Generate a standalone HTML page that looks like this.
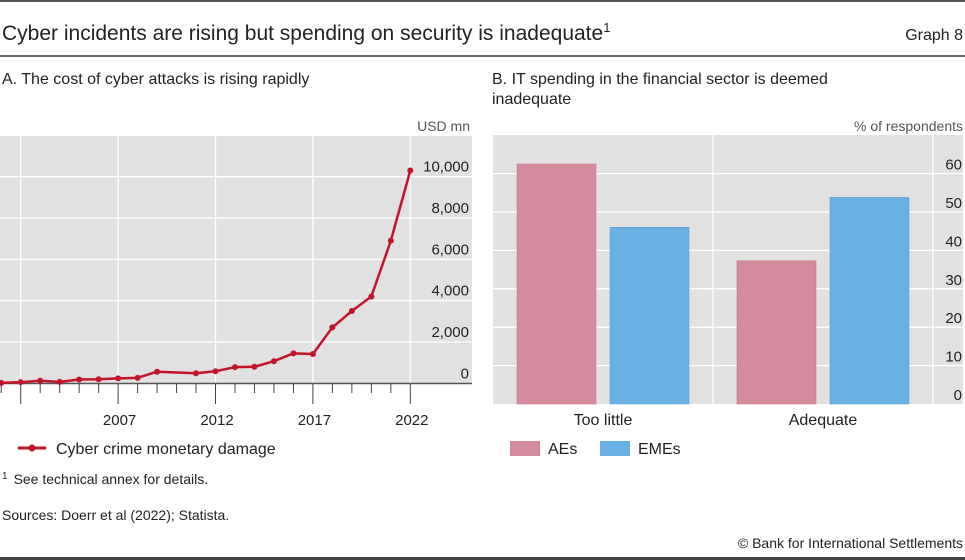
<!DOCTYPE html>
<html><head><meta charset="utf-8"><style>
body{margin:0;background:#fff;}
svg{display:block;font-family:"Liberation Sans",sans-serif;}
</style></head><body>
<svg width="965" height="560" viewBox="0 0 965 560">
<rect x="0" y="0" width="965" height="2" fill="#555"/>
<text x="2" y="40" font-size="21" fill="#222">Cyber incidents are rising but spending on security is inadequate<tspan font-size="13" dy="-8">1</tspan></text>
<text x="963" y="40" font-size="16" fill="#222" text-anchor="end">Graph 8</text>
<rect x="0" y="55" width="965" height="2" fill="#666"/>
<text x="2" y="84" font-size="16" fill="#222">A. The cost of cyber attacks is rising rapidly</text>
<text x="492" y="84" font-size="16" fill="#222">B. IT spending in the financial sector is deemed</text>
<text x="492" y="104" font-size="16" fill="#222">inadequate</text>
<text x="470" y="131" font-size="14" fill="#555" text-anchor="end">USD mn</text>
<text x="963" y="131" font-size="14" fill="#555" text-anchor="end">% of respondents</text>
<g id="chartA"></g>
<g id="chartB"></g>
<g>
<line x1="18" y1="448" x2="46" y2="448" stroke="#c0152a" stroke-width="3"/>
<circle cx="32" cy="448" r="3.5" fill="#c0152a"/>
<text x="56" y="454" font-size="16" fill="#222">Cyber crime monetary damage</text>
</g>
<g>
<rect x="510" y="441" width="30" height="15" fill="#d48b9e"/>
<text x="548" y="454" font-size="16" fill="#222">AEs</text>
<rect x="600" y="441" width="30" height="15" fill="#69b0e3"/>
<text x="638" y="454" font-size="16" fill="#222">EMEs</text>
</g>
<text x="2" y="484" font-size="14" fill="#222"><tspan font-size="10" dy="-5">1</tspan><tspan dx="6" dy="5">See technical annex for details.</tspan></text>
<text x="2" y="520" font-size="14" fill="#222">Sources: Doerr et al (2022); Statista.</text>
<text x="963" y="548" font-size="14" fill="#222" text-anchor="end">© Bank for International Settlements</text>
<rect x="0" y="557" width="965" height="3" fill="#444"/>
</svg>
<script>
const years=[2001,2002,2003,2004,2005,2006,2007,2008,2009,2011,2012,2013,2014,2015,2016,2017,2018,2019,2020,2021,2022];
const damage=[18,54,125,68,183,198,239,265,560,485,581,782,800,1070,1450,1418,2706,3500,4200,6900,10300];
const yTicksA=[0,2000,4000,6000,8000,10000];
const xLabelYears=[2007,2012,2017,2022];
const categories=["Too little","Adequate"];
const aes=[62.5,37.3];
const emes=[46,53.8];
const yTicksB=[0,10,20,30,40,50,60];
const NS="http://www.w3.org/2000/svg";
function mk(p,t,a){const e=document.createElementNS(NS,t);for(const k in a)e.setAttribute(k,a[k]);p.appendChild(e);return e;}
// Chart A
const A=document.getElementById('chartA');
const xA=y=>20.7+(y-2002)*19.48;
const yA=v=>383.3-v*0.02066;
const bgA=mk(A,'rect',{x:0,y:136,width:472,height:247,fill:'#e1e1e1'});


yTicksA.forEach(v=>{
 if(v>0){const g=mk(A,'line',{x1:0,x2:472,y1:yA(v),y2:yA(v),stroke:'#fff','stroke-width':1.3});
 
 }
 const t=mk(A,'text',{x:469,y:yA(v)-5,'font-size':15,fill:'#222','text-anchor':'end'});
 t.textContent=v.toLocaleString('en-US');
 
 
});
for(let y=2002;y<=2022;y+=5){
 const g=mk(A,'line',{x1:xA(y),x2:xA(y),y1:136,y2:383,stroke:'#fff','stroke-width':1.3});
 
 
}
mk(A,'line',{x1:0,x2:472,y1:383.5,y2:383.5,stroke:'#555','stroke-width':1.5});
for(let y=2001;y<=2022;y++){
 const major=(y-2002)%5===0;
 const t=mk(A,'line',{x1:xA(y),x2:xA(y),y1:384,y2:major?404:393,stroke:'#444','stroke-width':1});
 
 
}
xLabelYears.forEach(y=>{
 const t=mk(A,'text',{x:xA(y)+1.5,y:425,'font-size':15,fill:'#222','text-anchor':'middle'});
 t.textContent=y;
 
 
});
const pts=years.map((y,i)=>xA(y)+','+yA(damage[i])).join(' ');
const pl=mk(A,'polyline',{points:pts,fill:'none',stroke:'#c0152a','stroke-width':2.5,'stroke-linejoin':'round'});


years.forEach((y,i)=>{
 const c=mk(A,'circle',{cx:xA(y),cy:yA(damage[i]),r:3,fill:'#c0152a'});
 
 
});
// Chart B
const B=document.getElementById('chartB');
const yB=v=>404-v*3.84;
const catX=i=>493+i*220;
const bgB=mk(B,'rect',{x:493,y:135,width:470,height:269,fill:'#e1e1e1'});


yTicksB.forEach(v=>{
 if(v>0){const g=mk(B,'line',{x1:493,x2:963,y1:yB(v),y2:yB(v),stroke:'#fff','stroke-width':1.3});
 
 }
 const t=mk(B,'text',{x:962,y:yB(v)-4,'font-size':15,fill:'#222','text-anchor':'end'});
 t.textContent=v;
 
 
});
[713,933].forEach(x=>{const g=mk(B,'line',{x1:x,x2:x,y1:135,y2:404,stroke:'#fff','stroke-width':1.3});
 
 });
categories.forEach((c,i)=>{
 const a=mk(B,'rect',{x:catX(i)+24,y:yB(aes[i]),width:79,height:404-yB(aes[i]),fill:'#d48b9e',stroke:'#c97a90','stroke-width':0.6});
 
 
 const e=mk(B,'rect',{x:catX(i)+117,y:yB(emes[i]),width:79,height:404-yB(emes[i]),fill:'#69b0e3',stroke:'#5aa3d8','stroke-width':0.6});
 
 
 const t=mk(B,'text',{x:catX(i)+110,y:425,'font-size':16,fill:'#222','text-anchor':'middle'});
 t.textContent=c;
 
 
});
</script>
</body></html>
